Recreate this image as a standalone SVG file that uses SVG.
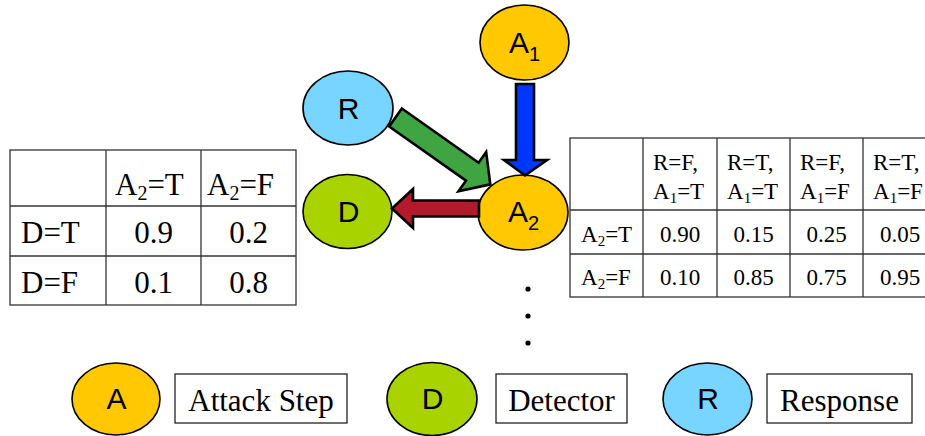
<svg xmlns="http://www.w3.org/2000/svg" width="925" height="436" viewBox="0 0 925 436">
<style>
.node{stroke:#000;stroke-width:1.6}
.a{fill:#FFC800}
.d{fill:#A8D300}
.r{fill:#78D5FF}
.nl{font-family:"Liberation Sans",Arial,sans-serif;font-size:30px;fill:#000;text-anchor:middle}
.arrow{stroke:#000;stroke-width:2.6;stroke-linejoin:miter}
.grid{fill:none;stroke:#333;stroke-width:1.3}
.t30{font-family:"Liberation Serif","Times New Roman",serif;font-size:31px;fill:#000}
.t23{font-family:"Liberation Serif","Times New Roman",serif;font-size:23px;fill:#000}
.t31{font-family:"Liberation Serif","Times New Roman",serif;font-size:31px;fill:#000;text-anchor:middle}
.c{text-anchor:middle}
.box{fill:#fff;stroke:#222;stroke-width:1.3}
</style>

<g id="node-A1">
<ellipse class="node a" cx="524.5" cy="42.5" rx="44.5" ry="37.5"/>
<text class="nl" x="524.5" y="53">A<tspan font-size="20" dy="8">1</tspan></text>
</g>
<g id="node-R">
<ellipse class="node r" cx="348" cy="108" rx="45" ry="37"/>
<text class="nl" x="348.5" y="119">R</text>
</g>
<g id="node-D">
<ellipse class="node d" cx="347.5" cy="211.5" rx="44.5" ry="37"/>
<text class="nl" x="348.5" y="222">D</text>
</g>
<g id="node-A2">
<ellipse class="node a" cx="523" cy="212.5" rx="45" ry="37.5"/>
<text class="nl" x="523.5" y="222">A<tspan font-size="20" dy="8">2</tspan></text>
</g>

<g id="connectors">
<polygon id="edge-A1-A2" class="arrow" fill="#0037FF" points="516,84 534,84 534,160 547,160 525,175.5 504,160 516,160"/>
<polygon id="edge-R-A2" class="arrow" fill="#3FA542" transform="translate(395.5,117.5) rotate(35.2)" points="0,-11 94,-11 94,-24 116,0 94,24 94,11 0,11"/>
<polygon id="edge-A2-D" class="arrow" fill="#B31A2C" points="479,200.5 413,200.5 413,189 392,208.5 413,228 413,216.5 479,216.5"/>
</g>

<g id="cpt-D">
<rect class="grid" x="10" y="150" width="286" height="155"/>
<line class="grid" x1="106" y1="150" x2="106" y2="305"/>
<line class="grid" x1="201" y1="150" x2="201" y2="305"/>
<line class="grid" x1="10" y1="206" x2="296" y2="206"/>
<line class="grid" x1="10" y1="256" x2="296" y2="256"/>
<text class="t30" x="115" y="195">A<tspan font-size="20" dy="5">2</tspan><tspan dy="-5">=T</tspan></text>
<text class="t30" x="207" y="195">A<tspan font-size="20" dy="5">2</tspan><tspan dy="-5">=F</tspan></text>
<text class="t30" x="21" y="243">D=T</text>
<text class="t30" x="21" y="293">D=F</text>
<text class="t30 c" x="153.5" y="243">0.9</text>
<text class="t30 c" x="248.5" y="243">0.2</text>
<text class="t30 c" x="153.5" y="293">0.1</text>
<text class="t30 c" x="248.5" y="293">0.8</text>
</g>

<g id="cpt-A2">
<rect class="grid" x="570" y="138" width="367" height="159"/>
<line class="grid" x1="643" y1="138" x2="643" y2="297"/>
<line class="grid" x1="717" y1="138" x2="717" y2="297"/>
<line class="grid" x1="790" y1="138" x2="790" y2="297"/>
<line class="grid" x1="863" y1="138" x2="863" y2="297"/>
<line class="grid" x1="570" y1="210" x2="937" y2="210"/>
<line class="grid" x1="570" y1="254" x2="937" y2="254"/>
<text class="t23" x="653" y="170">R=F,</text>
<text class="t23" x="653" y="199">A<tspan font-size="15" dy="4">1</tspan><tspan dy="-4">=T</tspan></text>
<text class="t23" x="727" y="170">R=T,</text>
<text class="t23" x="727" y="199">A<tspan font-size="15" dy="4">1</tspan><tspan dy="-4">=T</tspan></text>
<text class="t23" x="800" y="170">R=F,</text>
<text class="t23" x="800" y="199">A<tspan font-size="15" dy="4">1</tspan><tspan dy="-4">=F</tspan></text>
<text class="t23" x="873" y="170">R=T,</text>
<text class="t23" x="873" y="199">A<tspan font-size="15" dy="4">1</tspan><tspan dy="-4">=F</tspan></text>
<text class="t23" x="581" y="242">A<tspan font-size="15" dy="4">2</tspan><tspan dy="-4">=T</tspan></text>
<text class="t23" x="581" y="285">A<tspan font-size="15" dy="4">2</tspan><tspan dy="-4">=F</tspan></text>
<text class="t23 c" x="680" y="242">0.90</text>
<text class="t23 c" x="753.5" y="242">0.15</text>
<text class="t23 c" x="826.5" y="242">0.25</text>
<text class="t23 c" x="900" y="242">0.05</text>
<text class="t23 c" x="680" y="285">0.10</text>
<text class="t23 c" x="753.5" y="285">0.85</text>
<text class="t23 c" x="826.5" y="285">0.75</text>
<text class="t23 c" x="900" y="285">0.95</text>
</g>

<g id="ellipsis">
<circle cx="528" cy="289" r="2.6" fill="#000"/>
<circle cx="528" cy="316" r="2.6" fill="#000"/>
<circle cx="528" cy="343" r="2.6" fill="#000"/>
</g>

<g id="legend-A">
<ellipse class="node a" cx="116" cy="399" rx="44" ry="36"/>
<text class="nl" x="116.5" y="409">A</text>
<rect class="box" x="175" y="374" width="172" height="49"/>
<text class="t31" x="261" y="411">Attack Step</text>
</g>
<g id="legend-D">
<ellipse class="node d" cx="432" cy="399" rx="45" ry="36.5"/>
<text class="nl" x="432.5" y="409">D</text>
<rect class="box" x="496" y="374" width="131" height="49"/>
<text class="t31" x="561.5" y="411">Detector</text>
</g>
<g id="legend-R">
<ellipse class="node r" cx="707.5" cy="399" rx="44.5" ry="36"/>
<text class="nl" x="708" y="409">R</text>
<rect class="box" x="767" y="374" width="145" height="49"/>
<text class="t31" x="839.5" y="411">Response</text>
</g>
</svg>
